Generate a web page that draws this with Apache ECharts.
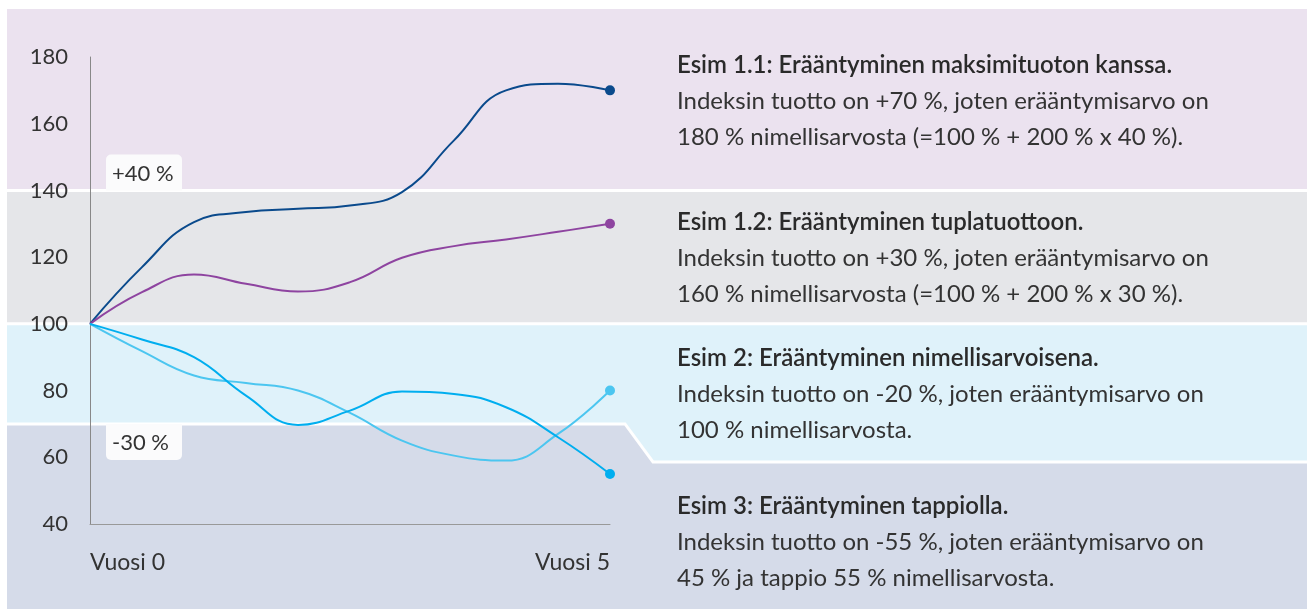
<!DOCTYPE html>
<html lang="fi">
<head>
<meta charset="UTF-8">
<title>Erääntymisesimerkit</title>
<style>
  html, body { margin: 0; padding: 0; background: #fff; }
  #chart { width: 1307px; height: 609px; }
</style>
</head>
<body>
<div id="chart"></div>
<script src="https://cdn.jsdelivr.net/npm/echarts@6/dist/echarts.min.js"></script>
<script>
// years on the x axis
var years = [0, 0.5, 1, 1.5, 2, 2.5, 3, 3.5, 4, 4.5, 5];
// four example paths (index value, start = 100)
var esim11 = [100, 117, 130.5, 133.5, 134.5, 135.5, 139.5, 155, 170, 172, 170];
var esim12 = [100, 109.5, 114.8, 112, 109.7, 112.5, 119.8, 123.3, 125.3, 127.6, 130];
var esim2  = [100, 91.8, 84.5, 82.3, 80, 73.3, 65, 60.5, 59, 67, 80];
var esim3  = [100, 95.3, 90, 78.5, 69.7, 74, 79.7, 79, 75, 66, 55];
var yTicks = [40, 180, 20];
var xLabels = ['Vuosi 0', 'Vuosi 5'];
var bandLevels = [140, 100, 70];
var bandLabels = ['+40 %', '-30 %'];

var texts = [
  ['Esim 1.1: Erääntyminen maksimituoton kanssa.',
   'Indeksin tuotto on +70 %, joten erääntymisarvo on',
   '180 % nimellisarvosta (=100 % + 200 % x 40 %).'],
  ['Esim 1.2: Erääntyminen tuplatuottoon.',
   'Indeksin tuotto on +30 %, joten erääntymisarvo on',
   '160 % nimellisarvosta (=100 % + 200 % x 30 %).'],
  ['Esim 2: Erääntyminen nimellisarvoisena.',
   'Indeksin tuotto on -20 %, joten erääntymisarvo on',
   '100 % nimellisarvosta.'],
  ['Esim 3: Erääntyminen tappiolla.',
   'Indeksin tuotto on -55 %, joten erääntymisarvo on',
   '45 % ja tappio 55 % nimellisarvosta.']
];
var textTops = [65, 222, 358, 506];

var FONT = 'Lato';
var TXT = '#333';

function pairs(vals) {
  return vals.map(function (v, i) { return [years[i], v]; });
}

function lineSeries(name, vals, color) {
  var last = vals.length - 1;
  return {
    name: name,
    type: 'line',
    data: pairs(vals),
    smooth: 0.45,
    symbol: 'circle',
    showAllSymbol: true,
    symbolSize: function (v, p) { return p.dataIndex === last ? 10 : 0; },
    lineStyle: { color: color, width: 2 },
    itemStyle: { color: color },
    z: 5
  };
}

var chart = echarts.init(document.getElementById('chart'));
chart.setOption({
  animation: false,
  grid: { left: 90, right: 697, top: 57, bottom: 85 },
  xAxis: {
    type: 'value', min: 0, max: 5, interval: 5,
    axisLine: { lineStyle: { color: '#999', width: 1 } },
    axisTick: { show: false },
    splitLine: { show: false },
    axisLabel: {
      margin: 27, color: TXT, fontFamily: FONT, fontSize: 23,
      alignMinLabel: 'left', alignMaxLabel: 'right',
      formatter: function (v) { return v === 0 ? xLabels[0] : xLabels[1]; }
    }
  },
  yAxis: {
    type: 'value', min: yTicks[0], max: yTicks[1], interval: yTicks[2],
    axisLine: { show: true, lineStyle: { color: '#888', width: 1 } },
    axisTick: { show: false },
    splitLine: { show: false },
    axisLabel: { margin: 22, color: TXT, fontFamily: FONT, fontSize: 22 }
  },
  series: [
    lineSeries('Esim 1.1', esim11, '#0a4a8c'),
    lineSeries('Esim 1.2', esim12, '#8e44a0'),
    lineSeries('Esim 2', esim2, '#4cc6f0'),
    lineSeries('Esim 3', esim3, '#00aeef')
  ]
});

// background bands and annotations tied to the y scale
var W = 1307, H = 609, L = 7, T = 9;
var y140 = chart.convertToPixel({ yAxisIndex: 0 }, bandLevels[0]);
var y100 = chart.convertToPixel({ yAxisIndex: 0 }, bandLevels[1]);
var y70 = chart.convertToPixel({ yAxisIndex: 0 }, bandLevels[2]);
var notchX1 = 625, notchX2 = 653, notchY = y70 + 38;
var white = { stroke: '#fff', lineWidth: 3, fill: null };

var g = [
  { type: 'rect', shape: { x: L, y: T, width: W - L, height: y140 - T }, style: { fill: '#ebe2ef' }, z: -5, silent: true },
  { type: 'rect', shape: { x: L, y: y140, width: W - L, height: y100 - y140 }, style: { fill: '#e5e6e9' }, z: -5, silent: true },
  { type: 'rect', shape: { x: L, y: y70, width: W - L, height: H - y70 }, style: { fill: '#d5dbe9' }, z: -5, silent: true },
  { type: 'polygon', shape: { points: [[L, y100], [W, y100], [W, notchY], [notchX2, notchY], [notchX1, y70], [L, y70]] },
    style: { fill: '#dff2fa' }, z: -5, silent: true },
  { type: 'line', shape: { x1: L, y1: y140, x2: W, y2: y140 }, style: white, z: -4, silent: true },
  { type: 'line', shape: { x1: L, y1: y100, x2: W, y2: y100 }, style: white, z: -4, silent: true },
  { type: 'polyline', shape: { points: [[L, y70], [notchX1, y70], [notchX2, notchY], [W, notchY]] }, style: white, z: -4, silent: true },
  // band labels
  { type: 'rect', shape: { x: 106, y: y140 - 36, width: 76, height: 36, r: [5, 5, 0, 0] }, style: { fill: '#fbfbfc' }, z: -3, silent: true },
  { type: 'text', x: 112, y: y140 - 17, style: { text: bandLabels[0], font: '22px ' + FONT, fill: TXT, textVerticalAlign: 'middle' }, z: -2, silent: true },
  { type: 'rect', shape: { x: 106, y: y70, width: 76, height: 36, r: [0, 0, 5, 5] }, style: { fill: '#fbfbfc' }, z: -3, silent: true },
  { type: 'text', x: 112, y: y70 + 19, style: { text: bandLabels[1], font: '22px ' + FONT, fill: TXT, textVerticalAlign: 'middle' }, z: -2, silent: true }
];

texts.forEach(function (block, b) {
  block.forEach(function (line, i) {
    g.push({
      type: 'text', x: 677, y: textTops[b] + i * 36,
      style: {
        text: line,
        font: (i === 0 ? '600 ' : '') + '24px ' + FONT,
        fill: i === 0 ? '#2a2a2a' : TXT, textVerticalAlign: 'middle'
      },
      silent: true
    });
  });
});

chart.setOption({ graphic: g });
</script>
</body>
</html>
